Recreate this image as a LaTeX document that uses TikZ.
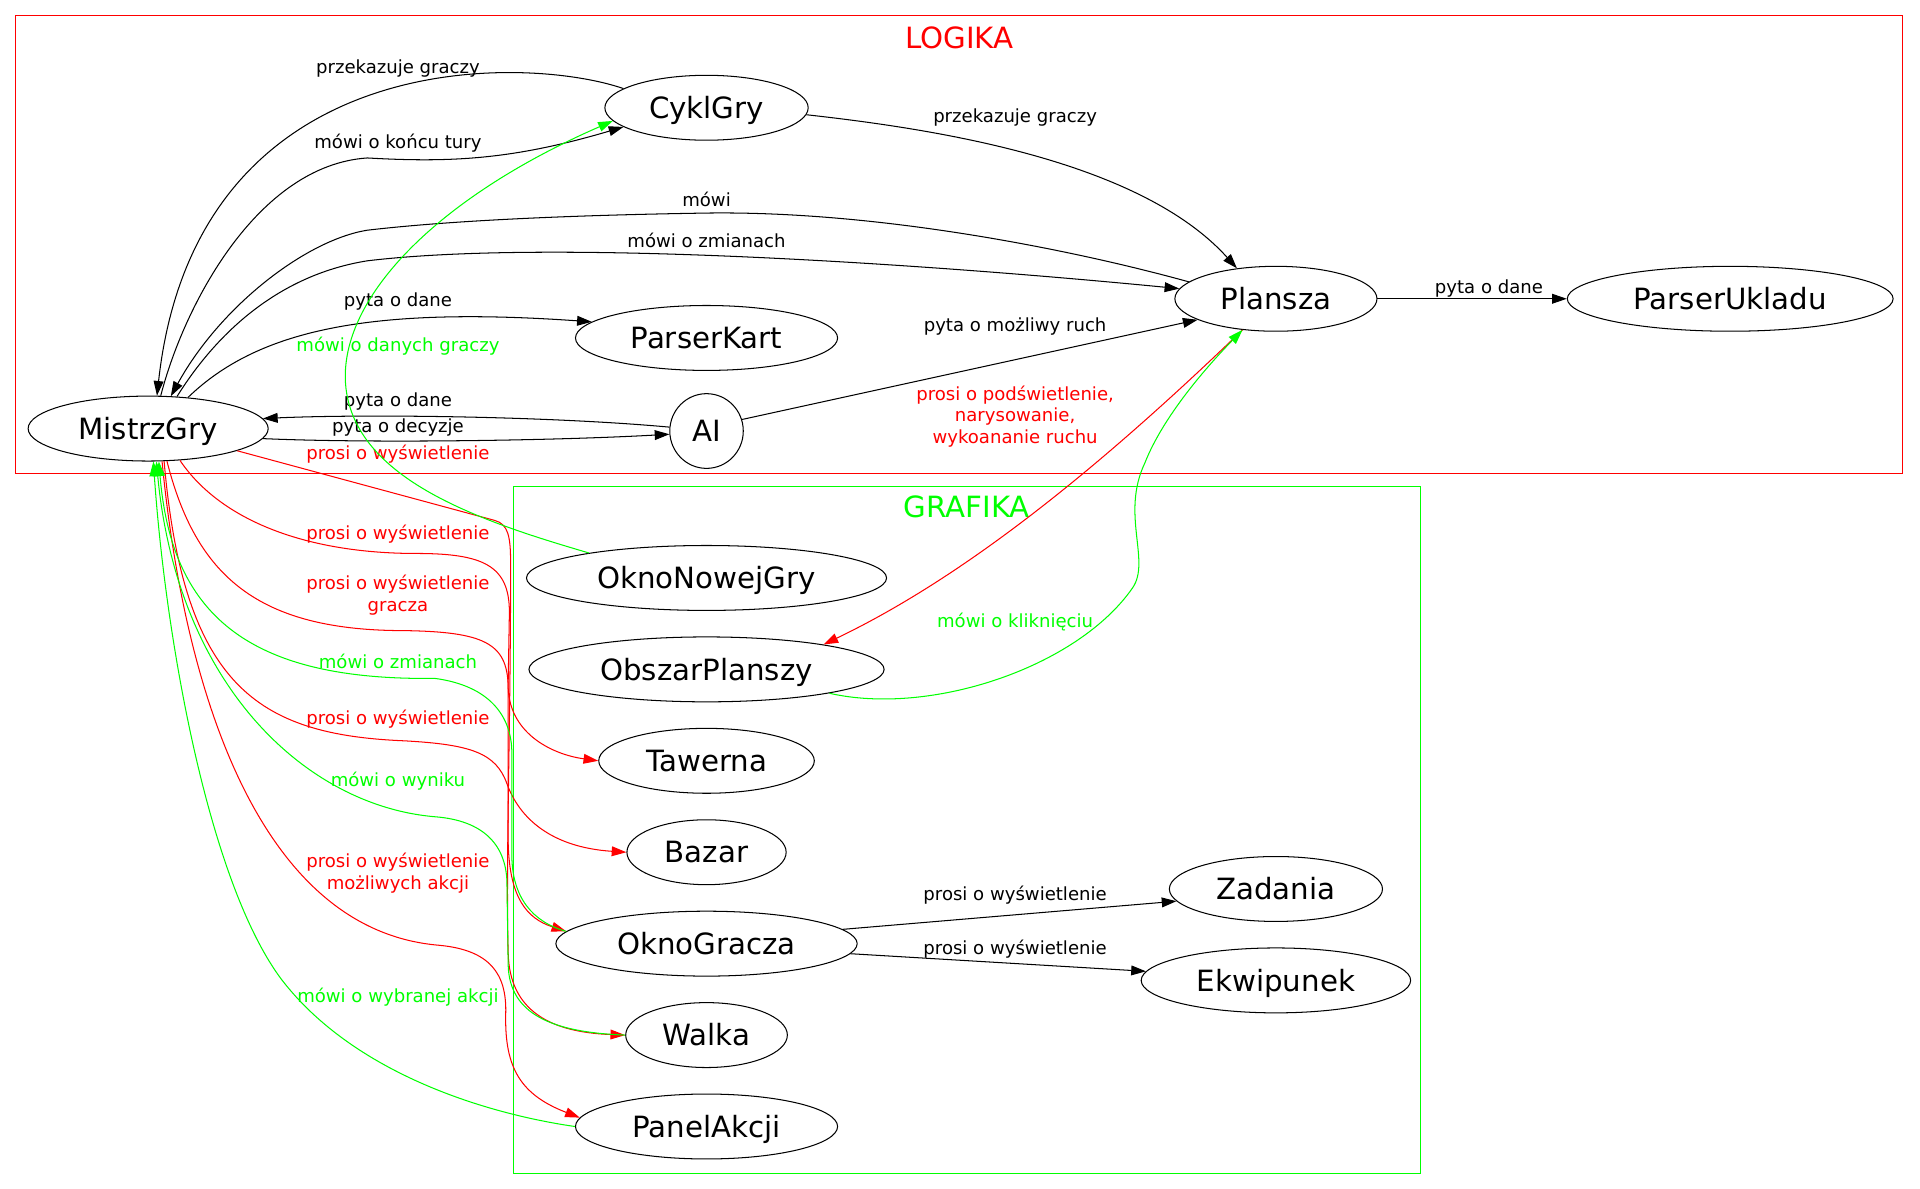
\documentclass[tikz,border=0pt]{standalone}
\usepackage{fontspec}
\setmainfont{DejaVu Sans}
\usetikzlibrary{arrows.meta,shapes,positioning}
\tikzset{
  basic/.style    = {draw, ellipse, line width=0.6pt, inner sep=0pt, minimum height=1.325cm,
                     text height=12.4pt, text depth=0pt, font=\fontsize{17}{20}\selectfont},
  clustertitle/.style = {inner sep=0pt, text height=12.4pt, text depth=0pt,
                     font=\fontsize{17}{20}\selectfont},
  cluster/.style  = {draw, line width=0.6pt},
  lab/.style      = {inner sep=0pt, align=center, font=\fontsize{10.5}{12.5}\selectfont},
  redlab/.style   = {lab, text=red},
  greenlab/.style = {lab, text=green},
  blackline/.style = {->, line width=0.6pt},
  redline/.style  = {blackline, red},
  greenline/.style = {blackline, green}
}

\begin{document}
\begin{tikzpicture}[x=0.025cm, y=-0.025cm, node distance=0.52cm,
    >={Triangle[length=3mm, width=2mm]}]
\useasboundingbox (0,0) rectangle (1568,971);

% the two clusters
\draw[cluster, red] (13,13) rectangle (1554,387);
\node[clustertitle, red] (logika) at (783.5,31) {LOGIKA};
\draw[cluster, green] (419,397) rectangle (1160,958);
\node[clustertitle, green] (grafika) at (789.5,414) {GRAFIKA};

% LOGIKA nodes
\node[basic, minimum width=4.9cm] (MistrzGry) at (121,350) {MistrzGry};
\node[basic, minimum width=4.15cm] (CyklGry) at (577,88) {CyklGry};
\node[basic, minimum width=5.35cm] (ParserKart) at (577,276) {ParserKart};
\node[basic, minimum width=1.5cm, minimum height=1.525cm] (AI) at (577,352) {AI};
\node[basic, minimum width=4.125cm] (Plansza) at (1042,244) {Plansza};
\node[basic, minimum width=6.65cm] (ParserUkladu) at (1413,244) {ParserUkladu};

% GRAFIKA nodes, one column below the other
\node[basic, minimum width=7.35cm] (OknoNowejGry) at (577,472) {OknoNowejGry};
\node[basic, minimum width=7.25cm, below=of OknoNowejGry] (ObszarPlanszy) {ObszarPlanszy};
\node[basic, minimum width=4.4cm, below=of ObszarPlanszy] (Tawerna) {Tawerna};
\node[basic, minimum width=3.25cm, below=of Tawerna] (Bazar) {Bazar};
\node[basic, minimum width=6.15cm, below=of Bazar] (OknoGracza) {OknoGracza};
\node[basic, minimum width=3.3cm, below=of OknoGracza] (Walka) {Walka};
\node[basic, minimum width=5.35cm, below=of Walka] (PanelAkcji) {PanelAkcji};
\node[basic, minimum width=4.35cm] (Zadania) at (1042,726) {Zadania};
\node[basic, minimum width=5.5cm, below=of Zadania] (Ekwipunek) {Ekwipunek};

% black edges
\draw[blackline] (CyklGry.167) .. controls (430,45) and (160,35) .. (MistrzGry.75)
  node[lab] at (325,56) {przekazuje graczy};
\draw[blackline] (MistrzGry.69) .. controls (150,250) and (210,135) .. (300,129)
  .. controls (370,133) and (420,130) .. (CyklGry.193)
  node[lab] at (325,117) {mówi o końcu tury};
\draw[blackline] (Plansza.169) .. controls (880,205) and (720,172) .. (577,174)
  .. controls (450,176) and (360,181) .. (300,188)
  .. controls (250,196) and (180,250) .. (MistrzGry.55)
  node[lab] at (577,163) {mówi};
\draw[blackline] (MistrzGry.48) .. controls (175,275) and (225,225) .. (300,213)
  .. controls (450,195) and (750,215) .. (Plansza.174)
  node[lab] at (577,196) {mówi o zmianach};
\draw[blackline] (MistrzGry.38) .. controls (210,270) and (300,250) .. (ParserKart.172)
  node[lab] at (325,246) {pyta o dane};
\draw[blackline] (AI.174) .. controls (450,340) and (300,338) .. (MistrzGry.5)
  node[lab] at (325,328) {pyta o dane};
\draw[blackline] (MistrzGry.-5) .. controls (300,362) and (450,360) .. (AI.185)
  node[lab] at (325,349) {pyta o decyzje};
\draw[blackline] (AI.18) -- (Plansza.195)
  node[lab] at (829,267) {pyta o możliwy ruch};
\draw[blackline] (CyklGry.-4) .. controls (760,105) and (930,130) .. (Plansza.142)
  node[lab] at (829,96) {przekazuje graczy};
\draw[blackline] (Plansza) -- (ParserUkladu)
  node[lab] at (1216,236) {pyta o dane};
\draw[blackline] (OknoGracza.6) -- (Zadania.187)
  node[lab] at (829,731) {prosi o wyświetlenie};
\draw[blackline] (OknoGracza.-4) -- (Ekwipunek.176)
  node[lab] at (829,775) {prosi o wyświetlenie};

% red edges
\draw[redline] (Plansza.223) .. controls (900,380) and (790,470) .. (ObszarPlanszy.12)
  node[redlab] at (829,340) {prosi o podświetlenie,\\narysowanie,\\wykoananie ruchu};
\draw[redline] (MistrzGry.-14) -- (404,425) .. controls (415,428) and (417,438) .. (417,460)
  .. controls (417,600) and (413,700) .. (415,778)
  .. controls (416,826) and (450,843) .. (Walka.west)
  node[redlab] at (325,371) {prosi o wyświetlenie};
\draw[redline] (MistrzGry.-45) .. controls (180,425) and (250,452) .. (340,452)
  .. controls (395,452) and (416,462) .. (416,500) -- (415,558)
  .. controls (414,598) and (450,616) .. (Tawerna.west)
  node[redlab] at (325,436) {prosi o wyświetlenie};
\draw[redline] (MistrzGry.-60) .. controls (160,470) and (210,515) .. (330,515)
  .. controls (395,516) and (414,525) .. (415,560) -- (415,688)
  .. controls (416,733) and (430,750) .. (OknoGracza.175)
  node[redlab] at (325,486) {prosi o wyświetlenie\\gracza};
\draw[redline] (MistrzGry.-64) .. controls (150,560) and (210,600) .. (330,605)
  .. controls (385,608) and (405,615) .. (414,640)
  .. controls (424,668) and (450,692) .. (Bazar.west)
  node[redlab] at (325,587) {prosi o wyświetlenie};
\draw[redline] (MistrzGry.-67) .. controls (150,560) and (210,760) .. (359,772)
  .. controls (400,776) and (414,795) .. (413,828)
  .. controls (412,872) and (425,894) .. (PanelAkcji.176)
  node[redlab] at (325,713) {prosi o wyświetlenie\\możliwych akcji};

% green edges
\draw[greenline] (ObszarPlanszy.-11) .. controls (760,585) and (880,545) .. (925,480)
  .. controls (940,458) and (915,420) .. (935,378)
  .. controls (950,340) and (985,300) .. (Plansza.223)
  node[greenlab] at (829,508) {mówi o kliknięciu};
\draw[greenline] (OknoNowejGry.168) .. controls (390,425) and (285,390) .. (282,310)
  .. controls (280,240) and (360,160) .. (CyklGry.188)
  node[greenlab] at (325,283) {mówi o danych graczy};
\draw[greenline] (OknoGracza.175) .. controls (435,753) and (418,733) .. (418,698) -- (418,615)
  .. controls (418,585) and (400,560) .. (355,554)
  .. controls (200,556) and (140,500) .. (MistrzGry.-72)
  node[greenlab] at (325,540) {mówi o zmianach};
\draw[greenline] (Walka.west) .. controls (450,843) and (416,828) .. (415,788) -- (414,720)
  .. controls (413,690) and (395,670) .. (355,667)
  .. controls (250,658) and (145,560) .. (MistrzGry.-76)
  node[greenlab] at (325,638) {mówi o wyniku};
\draw[greenline] (PanelAkcji.180) .. controls (400,910) and (290,878) .. (230,800)
  .. controls (170,720) and (135,520) .. (MistrzGry.-81)
  node[greenlab] at (325,814) {mówi o wybranej akcji};
\end{tikzpicture}
\end{document}
